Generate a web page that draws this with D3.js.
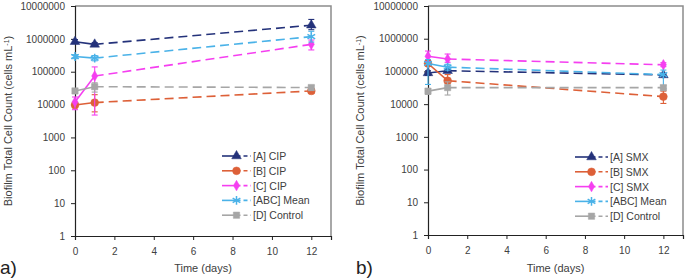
<!DOCTYPE html>
<html>
<head>
<meta charset="utf-8">
<script src="https://cdn.jsdelivr.net/npm/d3@7"></script>
<style>
  body { margin: 0; background: #fff; }
  svg { display: block; font-family: "Liberation Sans", Arial, sans-serif; }
</style>
</head>
<body>
<svg width="685" height="280"></svg>
<script>
const days = [0, 1, 12];
const xTicks = [0, 2, 4, 6, 8, 10, 12];
const yTicks = [1, 10, 100, 1000, 10000, 100000, 1000000, 10000000];

// panel a: CIP
const cipA = [820000, 680000, 2600000];
const cipALow = [720000, 600000, 1900000];
const cipAHigh = [950000, 770000, 3900000];
const cipB = [9700, 11500, 26000];
const cipBLow = [8000, 6000, 22000];
const cipBHigh = [11500, 20000, 30000];
const cipC = [12000, 74000, 680000];
const cipCLow = [7000, 4800, 460000];
const cipCHigh = [17000, 140000, 920000];
const cipMean = [290000, 260000, 1170000];
const cipMeanLow = [250000, 215000, 800000];
const cipMeanHigh = [330000, 310000, 1700000];
const ctrlA = [26000, 35000, 33000];
const ctrlALow = [23000, 24000, 27000];
const ctrlAHigh = [29000, 46000, 38000];

// panel b: SMX
const smxA = [90000, 105000, 78000];
const smxALow = [76000, 95000, 70000];
const smxAHigh = [105000, 115000, 86000];
const smxB = [175000, 52000, 17000];
const smxBLow = [150000, 30000, 10500];
const smxBHigh = [210000, 80000, 25000];
const smxC = [290000, 240000, 160000];
const smxCLow = [200000, 190000, 140000];
const smxCHigh = [420000, 340000, 185000];
const smxMean = [175000, 135000, 80000];
const smxMeanLow = [40000, 110000, 30000];
const smxMeanHigh = [230000, 165000, 110000];
const ctrlB = [25000, 32000, 32000];
const ctrlBLow = [20000, 19000, 27000];
const ctrlBHigh = [30000, 48000, 37000];

const legendA = ["[A] CIP", "[B] CIP", "[C] CIP", "[ABC] Mean", "[D] Control"];
const legendB = ["[A] SMX", "[B] SMX", "[C] SMX", "[ABC] Mean", "[D] Control"];

const colors = ["#24327a", "#dd6038", "#f53ff0", "#4ab2e8", "#a6a6a6"];
const shapes = [d3.symbolTriangle, d3.symbolCircle, d3.symbolDiamond, d3.symbolAsterisk, d3.symbolSquare];
const sizes = [40, 48, 32, 55, 40];

const svg = d3.select("svg");

function drawPanel(opt) {
    const x = d3.scaleLinear().domain([0, 13]).range([opt.left, opt.right]);
    const y = d3.scaleLog().domain([1, 10000000]).range([opt.bottom, opt.top]);
    const g = svg.append("g");

    // plot frame (top + right)
    g.append("path")
        .attr("d", `M${opt.left},${opt.top}H${opt.right}V${opt.bottom}`)
        .attr("fill", "none")
        .attr("stroke", "#8c8c8c")
        .attr("stroke-width", 1.5);

    const yAxis = g.append("g")
        .attr("transform", `translate(${opt.left},0)`)
        .call(d3.axisLeft(y).tickValues(yTicks).tickFormat(d3.format("d")).tickSize(4).tickPadding(6));
    const xAxis = g.append("g")
        .attr("transform", `translate(0,${opt.bottom})`)
        .call(d3.axisBottom(x).tickValues(xTicks).tickSize(4).tickPadding(8));
    [yAxis, xAxis].forEach(a => {
        a.select(".domain").attr("stroke", "#222").attr("stroke-width", 1.2);
        a.selectAll(".tick line").attr("stroke", "#222");
        a.selectAll("text").attr("fill", "#404040").style("font-size", "10px")
            .style("font-family", "Liberation Sans, Arial, sans-serif");
    });

    opt.series.forEach((s, i) => {
        const pts = days.map((d, k) => ({ d: d, v: s.v[k], lo: s.lo[k], hi: s.hi[k] }));
        const line = d3.line().x(p => x(p.d)).y(p => y(p.v));
        // solid first segment, dashed after
        g.append("path").datum(pts.slice(0, 2))
            .attr("d", line).attr("fill", "none")
            .attr("stroke", colors[i]).attr("stroke-width", 1.6);
        g.append("path").datum(pts.slice(1))
            .attr("d", line).attr("fill", "none")
            .attr("stroke", colors[i]).attr("stroke-width", 1.6)
            .attr("stroke-dasharray", "9,5");

        // error bars
        const eb = g.append("g").attr("stroke", colors[i]).attr("stroke-width", 1.1);
        pts.forEach(p => {
            eb.append("line").attr("x1", x(p.d)).attr("x2", x(p.d))
                .attr("y1", y(p.lo)).attr("y2", y(p.hi));
            [p.lo, p.hi].forEach(v => {
                eb.append("line").attr("x1", x(p.d) - 3).attr("x2", x(p.d) + 3)
                    .attr("y1", y(v)).attr("y2", y(v));
            });
        });

        const sym = d3.symbol(shapes[i], sizes[i]);
        g.selectAll(null).data(pts).enter().append("path")
            .attr("transform", p => `translate(${x(p.d)},${y(p.v)})`)
            .attr("d", sym)
            .attr("fill", i === 3 ? "none" : colors[i])
            .attr("stroke", colors[i])
            .attr("stroke-width", i === 3 ? 1.5 : 0.5);
    });

    // legend
    const lg = g.append("g");
    opt.labels.forEach((lab, i) => {
        const ly = opt.legY + i * 14.8;
        const cx = (opt.legX1 + opt.legX2) / 2;
        lg.append("line").attr("x1", opt.legX1).attr("x2", cx).attr("y1", ly).attr("y2", ly)
            .attr("stroke", colors[i]).attr("stroke-width", 1.6);
        lg.append("line").attr("x1", cx).attr("x2", opt.legX2).attr("y1", ly).attr("y2", ly)
            .attr("stroke", colors[i]).attr("stroke-width", 1.6).attr("stroke-dasharray", "4,3");
        lg.append("path").attr("transform", `translate(${cx},${ly})`)
            .attr("d", d3.symbol(shapes[i], sizes[i])())
            .attr("fill", i === 3 ? "none" : colors[i])
            .attr("stroke", colors[i]).attr("stroke-width", i === 3 ? 1.5 : 0.5);
        lg.append("text").attr("x", opt.legX2 + 2).attr("y", ly)
            .attr("dominant-baseline", "central")
            .style("font-size", "10.5px").attr("fill", "#404040")
            .text(lab);
    });

    // axis titles
    const yt = g.append("text")
        .attr("transform", `translate(${opt.yTitleX},${(opt.top + opt.bottom) / 2}) rotate(-90)`)
        .attr("text-anchor", "middle")
        .style("font-size", "11px").attr("fill", "#404040");
    yt.append("tspan").text("Biofilm Total Cell Count (cells mL");
    yt.append("tspan").attr("baseline-shift", "super").style("font-size", "7px").text("-1");
    yt.append("tspan").text(")");

    g.append("text")
        .attr("x", (opt.left + opt.right) / 2).attr("y", 272)
        .attr("text-anchor", "middle")
        .style("font-size", "11px").attr("fill", "#404040")
        .text("Time (days)");

    g.append("text")
        .attr("x", opt.tagX).attr("y", 274)
        .style("font-size", "19px").attr("fill", "#222")
        .text(opt.tag);
}

drawPanel({
    left: 75, right: 331, top: 6, bottom: 236,
    series: [
        { v: cipA, lo: cipALow, hi: cipAHigh },
        { v: cipB, lo: cipBLow, hi: cipBHigh },
        { v: cipC, lo: cipCLow, hi: cipCHigh },
        { v: cipMean, lo: cipMeanLow, hi: cipMeanHigh },
        { v: ctrlA, lo: ctrlALow, hi: ctrlAHigh }
    ],
    labels: legendA,
    legX1: 222, legX2: 251, legY: 156,
    yTitleX: 12, tagX: 0, tag: "a)"
});

drawPanel({
    left: 428, right: 683, top: 6, bottom: 235,
    series: [
        { v: smxA, lo: smxALow, hi: smxAHigh },
        { v: smxB, lo: smxBLow, hi: smxBHigh },
        { v: smxC, lo: smxCLow, hi: smxCHigh },
        { v: smxMean, lo: smxMeanLow, hi: smxMeanHigh },
        { v: ctrlB, lo: ctrlBLow, hi: ctrlBHigh }
    ],
    labels: legendB,
    legX1: 575, legX2: 608, legY: 157,
    yTitleX: 364, tagX: 356, tag: "b)"
});
</script>
</body>
</html>
